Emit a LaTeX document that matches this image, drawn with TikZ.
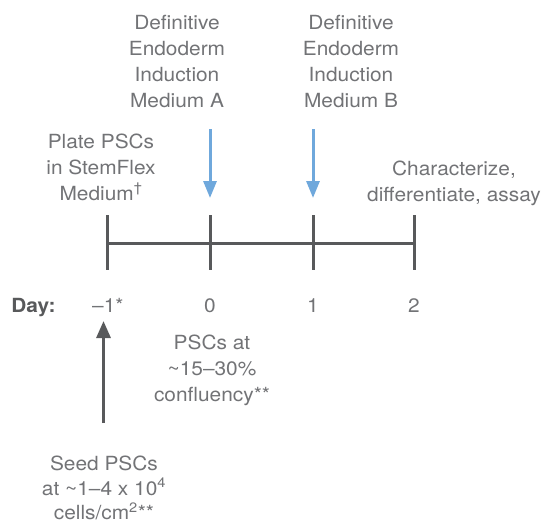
\documentclass[tikz,border=0pt]{standalone}
\usepackage{fontspec}
\setmainfont{TeX Gyre Heros}[FakeStretch=1.07]
\usetikzlibrary{arrows.meta}
\definecolor{txtgray}{HTML}{727376}
\definecolor{linegray}{HTML}{58595B}
\definecolor{arrowblue}{HTML}{6FA8DC}
\begin{document}
\begin{tikzpicture}[x=1pt,y=-1pt,
  lbl/.style={font=\fontsize{19.5}{26}\selectfont, text=txtgray, align=center, inner sep=0pt, anchor=north},
  daylbl/.style={font=\fontsize{19.5}{26}\selectfont, text=txtgray, inner sep=0pt, anchor=base},
  axisline/.style={draw=linegray, line width=3pt},
  bluearrow/.style={draw=arrowblue, line width=3pt, -{Triangle[length=17pt,width=13pt]}},
  grayarrow/.style={draw=linegray, line width=3pt, -{Triangle[length=17pt,width=14pt]}}]
\useasboundingbox (0,0) rectangle (546,523);
% timeline
\foreach \n/\x in {m1/107, d0/210, d1/313, d2/414} {
  \coordinate (\n) at (\x,243);
  \coordinate (\n top) at (\x,215);
  \coordinate (\n bot) at (\x,270);
  \draw[axisline] (\n top) -- (\n bot);
}
\draw[axisline] (m1) -- (d2);
% blue arrows
\coordinate (a0s) at (210,129);
\coordinate (a0e) at (210,198);
\coordinate (a1s) at (313,129);
\coordinate (a1e) at (313,198);
\draw[bluearrow] (a0s) -- (a0e);
\draw[bluearrow] (a1s) -- (a1e);
% gray up arrow
\coordinate (gs) at (103.5,423);
\coordinate (ge) at (103.5,321);
\draw[grayarrow] (gs) -- (ge);
% top labels
\node[lbl] (medA) at (177,15) {Definitive\\Endoderm\\Induction\\Medium A};
\node[lbl] (medB) at (351,15) {Definitive\\Endoderm\\Induction\\Medium B};
\node[lbl] (plate) at (101,133.5) {Plate PSCs\\in StemFlex\\Medium\textsuperscript{†}};
\node[lbl] (charac) at (454,160.5) {Characterize,\\differentiate, assay};
% day row
\node[daylbl, text=linegray] (day) at (33.5,312) {\textbf{Day:}};
\node[daylbl, anchor=base west] (lm1) at (92,312) {–1*};
\node[daylbl] (l0) at (210,312) {0};
\node[daylbl] (l1) at (313,312) {1};
\node[daylbl] (l2) at (414,312) {2};
% bottom labels
\node[lbl] (conf) at (212,335) {PSCs at\\\textasciitilde15–30\%\\confluency**};
\node[lbl, font=\fontsize{19.5}{24.5}\selectfont] (seed) at (104,456) {Seed PSCs\\at \textasciitilde1–4 x 10\textsuperscript{4}\\cells/cm\textsuperscript{2}**};
\end{tikzpicture}
\end{document}
